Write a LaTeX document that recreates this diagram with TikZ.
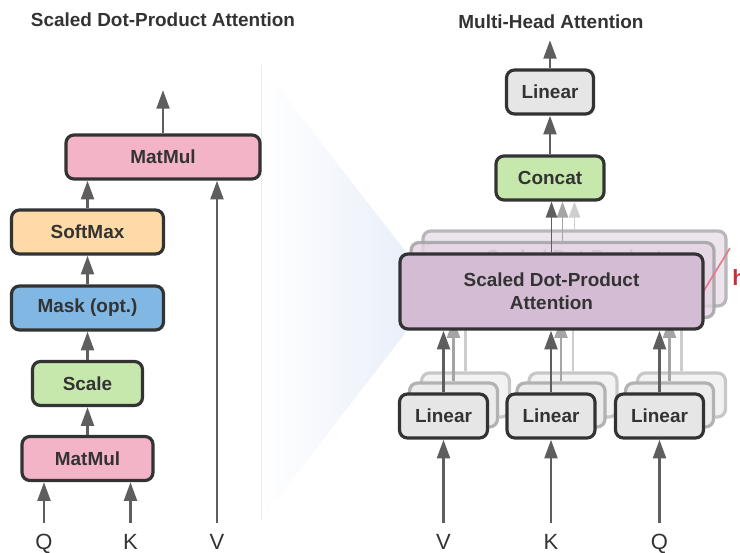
\documentclass[tikz,border=0pt]{standalone}
\usepackage{fontspec}
\setmainfont{Liberation Sans}
\usetikzlibrary{arrows.meta}

\definecolor{ink}{RGB}{51,51,51}
\definecolor{arrowgray}{RGB}{94,94,94}
\definecolor{midarrow}{RGB}{165,165,165}
\definecolor{farrow}{RGB}{205,205,205}
\definecolor{matmulpink}{RGB}{243,180,200}
\definecolor{softmaxorange}{RGB}{254,218,166}
\definecolor{maskblue}{RGB}{128,183,227}
\definecolor{scalegreen}{RGB}{198,232,172}
\definecolor{lineargray}{RGB}{230,230,230}
\definecolor{attnlilac}{RGB}{212,188,212}
\definecolor{wedgeblue}{RGB}{232,244,251}
\definecolor{wedgelilac}{RGB}{229,236,248}
\definecolor{headred}{RGB}{200,45,55}
\definecolor{headline}{RGB}{228,120,135}

\newcommand\boxfont{\fontsize{14.2}{17.5}\selectfont\bfseries}
\newcommand\lblfont{\fontsize{16.5}{18}\selectfont}

\tikzset{
  box/.style={draw=ink, line width=2.4pt, rounded corners=6pt, text=ink,
    font=\boxfont, inner sep=0pt, minimum height=33pt, align=center},
  attnbox/.style={box, minimum width=227.25pt, minimum height=56.25pt},
  attnmid/.style={attnbox, fill=attnlilac!65!white, draw=black!38,
    fill opacity=0.8, draw opacity=0.8},
  attnback/.style={attnbox, fill=attnlilac!40!white, draw=black!28, text=black!40},
  linbox/.style={box, fill=lineargray, minimum width=66pt},
  linmid/.style={linbox, fill=lineargray!75!white, draw=black!30},
  linback/.style={linbox, fill=lineargray!50!white, draw=black!22},
  arr/.style={draw=arrowgray, line width=2.2pt, -{Triangle[length=14pt,width=9.5pt]}},
  thinarr/.style={draw=arrowgray, line width=1pt, -{Triangle[length=12pt,width=8.5pt]}},
  inarr/.style={arr, shorten <=7.5pt},
  lbl/.style={font=\lblfont, text=ink, inner sep=0pt, text height=12pt, text depth=0pt},
  ttl/.style={font=\boxfont, text=ink, inner sep=0pt},
}

\begin{document}
\begin{tikzpicture}[x=0.75pt,y=-0.75pt]
\path[use as bounding box] (0,0) rectangle (740,553);
\clip (0,0) rectangle (740,553);

% zoom wedge linking the two panels
\shade[left color=white, middle color=wedgeblue, right color=wedgelilac]
  (261,65) -- (437,292) -- (261,520) -- cycle;
\draw[black!8, line width=0.6pt] (261,65) -- (261,520);

% ---------------- left panel: scaled dot-product attention
\node[ttl] (titleL) at (163,20) {Scaled Dot-Product Attention};

\node[box, fill=matmulpink, minimum width=145.5pt] (mmtop) at (163,157) {MatMul};
\node[box, fill=softmaxorange, minimum width=114pt] (softmax) at (87.5,232) {SoftMax};
\node[box, fill=maskblue, minimum width=114pt] (mask) at (87.5,308) {Mask (opt.)};
\node[box, fill=scalegreen, minimum width=82.5pt] (scale) at (87.5,383.5) {Scale};
\node[box, fill=matmulpink, minimum width=98.25pt] (mmbot) at (87.5,458.5) {MatMul};

\node[lbl] (qL) at (44,541) {Q};
\node[lbl] (kL) at (130.5,541) {K};
\node[lbl] (vL) at (217,541) {V};
\coordinate (outL) at (163,90);

\draw[arr] (mmtop.north) -- (outL);
\draw[arr] (softmax.north) -- (softmax.north |- mmtop.south);
\draw[arr] (mask.north) -- (softmax.south);
\draw[arr] (scale.north) -- (mask.south);
\draw[arr] (mmbot.north) -- (scale.south);
\draw[inarr] (qL.north) -- (qL.north |- mmbot.south);
\draw[inarr] (kL.north) -- (kL.north |- mmbot.south);
\draw[inarr] (vL.north) -- (vL.north |- mmtop.south);

% ---------------- right panel: multi-head attention
\node[ttl] (titleR) at (551,22) {Multi-Head Attention};

\coordinate (outR) at (550,40);
\node[box, fill=lineargray, minimum width=65.25pt] (linout) at (550,92) {Linear};
\node[box, fill=scalegreen, minimum width=81pt] (concat) at (550,178) {Concat};
\draw[arr] (linout.north) -- (outR);
\draw[arr] (concat.north) -- (concat.north |- linout.south);

% stacked attention heads
\node[attnback] (attnB) at (574.5,268.5) {Scaled Dot-Product\\Attention};
\draw[thinarr, draw=farrow] (attnB.north) -- (attnB.north |- concat.south);
\node[attnmid] (attnM) at (562.5,280) {};
\draw[thinarr, draw=midarrow] (attnM.north) -- (attnM.north |- concat.south);

% stacked linear projections behind the front ones
\foreach \n/\x in {v/443.5, k/551, q/659.5} {
  \node[linback] (linB\n) at (\x+22,395) {};
  \node[linmid] (linM\n) at (\x+10,405) {};
}
\foreach \n in {v,k,q} {
  \draw[arr, draw=farrow] (linB\n.north) -- (linB\n.north |- attnB.south);
  \draw[arr, draw=midarrow] (linM\n.north) -- (linM\n.north |- attnM.south);
}

% head count mark
\coordinate (hA) at (703,292);
\coordinate (hB) at (730,248);
\draw[headline, line width=1.2pt] (hA) -- (hB);
\node[font=\lblfont\bfseries, text=headred, inner sep=0pt, anchor=west] (hlbl) at (732,278) {h};

\node[attnbox, fill=attnlilac] (attn) at (551.5,291.5) {Scaled Dot-Product\\Attention};
\draw[thinarr] (attn.north) -- (attn.north |- concat.south);

\foreach \n/\x/\l in {v/443.5/V, k/551/K, q/659.5/Q} {
  \node[linbox] (lin\n) at (\x,416) {Linear};
  \node[lbl] (in\n) at (\x,541) {\l};
  \draw[arr] (lin\n.north) -- (lin\n.north |- attn.south);
  \draw[inarr] (in\n.north) -- (in\n.north |- lin\n.south);
}
\end{tikzpicture}
\end{document}
